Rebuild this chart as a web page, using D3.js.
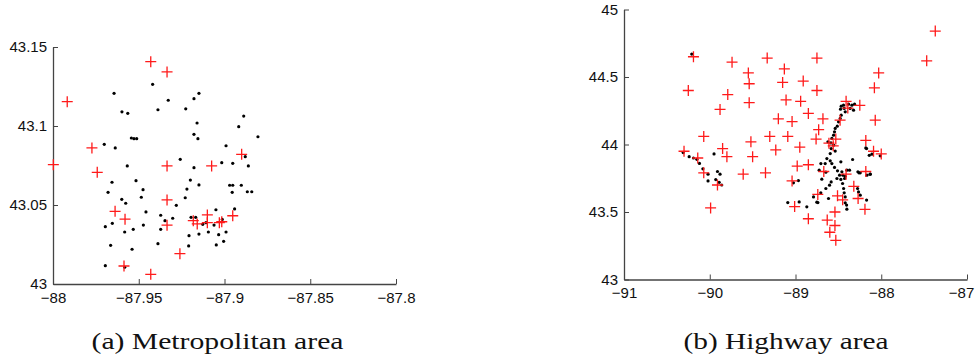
<!DOCTYPE html>
<html>
<head>
<meta charset="utf-8">
<script src="https://cdn.jsdelivr.net/npm/d3@7"></script>
<style>
  body { margin: 0; background: #fff; }
  svg { display: block; }
  .tick text { font-family: "Liberation Sans", Arial, sans-serif; font-size: 15px; fill: #111; }
  .caption { font-family: "Liberation Serif", "DejaVu Serif", serif; font-size: 24px; fill: #111; }
</style>
</head>
<body>
<div id="chart"></div>
<script>
// (a) metropolitan area: sensors (black dots) and targets (red crosses), [lon, lat]
const metroSensors = [
  [-87.9644, 43.1207], [-87.9419, 43.1264], [-87.9328, 43.1163], [-87.9178, 43.1173],
  [-87.9149, 43.1207], [-87.9598, 43.1090], [-87.9564, 43.1080], [-87.9388, 43.1103],
  [-87.9226, 43.1109], [-87.9160, 43.1019], [-87.9701, 43.0884], [-87.9637, 43.0861],
  [-87.9543, 43.0924], [-87.9528, 43.0920], [-87.9512, 43.0920], [-87.9178, 43.0947],
  [-87.9155, 43.0920], [-87.9258, 43.0789], [-87.9567, 43.0747], [-87.9178, 43.0736],
  [-87.9656, 43.0644], [-87.9516, 43.0654], [-87.9199, 43.0658], [-87.9149, 43.0627],
  [-87.9679, 43.0580], [-87.9475, 43.0597], [-87.9219, 43.0601], [-87.9599, 43.0536],
  [-87.9576, 43.0511], [-87.9485, 43.0549], [-87.9229, 43.0546], [-87.9281, 43.0498],
  [-87.9458, 43.0456], [-87.9372, 43.0435], [-87.9347, 43.0401], [-87.9302, 43.0416],
  [-87.9195, 43.0422], [-87.9168, 43.0422], [-87.9695, 43.0363], [-87.9654, 43.0384],
  [-87.9582, 43.0329], [-87.9532, 43.0346], [-87.9473, 43.0373], [-87.9372, 43.0346],
  [-87.9207, 43.0306], [-87.9149, 43.0316], [-87.9664, 43.0245], [-87.9388, 43.0255],
  [-87.9209, 43.0241], [-87.9539, 43.0220], [-87.9695, 43.0116], [-87.9582, 43.0106],
  [-87.8888, 43.1063], [-87.8917, 43.0996], [-87.8805, 43.0932], [-87.8991, 43.0875],
  [-87.8879, 43.0806], [-87.8861, 43.0747], [-87.9016, 43.0768], [-87.8952, 43.0764],
  [-87.8970, 43.0625], [-87.8952, 43.0625], [-87.8902, 43.0625], [-87.8955, 43.0580],
  [-87.8867, 43.0584], [-87.8841, 43.0584], [-87.9050, 43.0470], [-87.8941, 43.0475],
  [-87.9127, 43.0378], [-87.9108, 43.0388], [-87.9061, 43.0373], [-87.9013, 43.0409],
  [-87.9094, 43.0329], [-87.9034, 43.0312], [-87.8991, 43.0329], [-87.9048, 43.0247],
  [-87.9005, 43.0270]
];
const metroTargets = [
  [-87.9430, 43.1407], [-87.9335, 43.1342], [-87.9917, 43.1154], [-87.9773, 43.0861],
  [-87.9998, 43.0755], [-87.9742, 43.0707], [-87.9335, 43.0747], [-87.9638, 43.0460],
  [-87.9580, 43.0410], [-87.9335, 43.0532], [-87.9335, 43.0372], [-87.9260, 43.0192],
  [-87.9586, 43.0114], [-87.9430, 43.0061], [-87.8900, 43.0821], [-87.9075, 43.0747],
  [-87.8952, 43.0432], [-87.9182, 43.0401], [-87.9159, 43.0380], [-87.9100, 43.0437],
  [-87.9100, 43.0388], [-87.9030, 43.0388], [-87.9016, 43.0394]
];

// (b) highway area
const highwaySensors = [
  [-90.21, 44.67], [-90.31, 43.94], [-90.24, 43.91], [-90.19, 43.90], [-90.15, 43.89],
  [-90.12, 43.86], [-90.08, 43.82], [-90.02, 43.78], [-90.02, 43.73], [-89.95, 43.93],
  [-89.91, 43.80], [-89.88, 43.78], [-89.93, 43.74], [-89.89, 43.72], [-89.86, 43.70],
  [-88.467, 44.284], [-88.440, 44.291], [-88.381, 44.299], [-88.342, 44.291], [-88.311, 44.299],
  [-88.475, 44.262], [-88.432, 44.267], [-88.362, 44.267], [-88.323, 44.254], [-88.420, 44.242],
  [-88.467, 44.217], [-88.479, 44.193], [-88.498, 44.168], [-88.513, 44.136], [-88.537, 44.119],
  [-88.545, 44.094], [-88.556, 44.069], [-88.576, 44.045], [-88.587, 44.012], [-88.622, 44.020],
  [-88.556, 43.995], [-88.584, 43.970], [-88.537, 43.951], [-88.595, 43.933], [-88.171, 43.970],
  [-88.109, 43.928], [-88.012, 43.916], [-88.634, 43.896], [-88.704, 43.859], [-88.654, 43.859],
  [-88.595, 43.879], [-88.576, 43.859], [-88.471, 43.872], [-88.334, 43.889], [-88.545, 43.830],
  [-88.724, 43.810], [-88.646, 43.795], [-88.510, 43.805], [-88.459, 43.798], [-88.401, 43.810],
  [-88.370, 43.810], [-88.486, 43.773], [-88.447, 43.773], [-88.420, 43.765], [-88.272, 43.798],
  [-88.245, 43.790], [-88.167, 43.773], [-88.128, 43.780], [-88.693, 43.743], [-88.517, 43.748],
  [-88.471, 43.741], [-88.428, 43.748], [-88.584, 43.723], [-88.603, 43.699], [-88.451, 43.711],
  [-88.646, 43.674], [-88.439, 43.674], [-88.276, 43.674], [-88.432, 43.642], [-88.265, 43.649],
  [-88.790, 43.612], [-88.615, 43.600], [-88.420, 43.612], [-88.245, 43.625], [-88.739, 43.570],
  [-88.420, 43.568], [-88.171, 43.588], [-88.404, 43.551], [-88.868, 43.538], [-88.401, 43.521],
  [-89.024, 43.716], [-88.966, 43.733], [-89.090, 43.570], [-88.957, 43.575], [-88.751, 43.573],
  [-88.705, 43.642], [-88.180, 43.975], [-88.140, 43.920], [-88.130, 43.780], [-88.260, 43.790]
];
const highwayTargets = [
  [-87.37, 44.84], [-87.47, 44.62], [-90.19, 44.65], [-89.74, 44.61], [-89.33, 44.64],
  [-88.75, 44.64], [-89.13, 44.56], [-89.55, 44.53], [-88.03, 44.53], [-90.25, 44.40],
  [-89.54, 44.45], [-89.15, 44.46], [-88.91, 44.47], [-88.08, 44.42], [-88.75, 44.40],
  [-89.79, 44.37], [-89.11, 44.33], [-89.54, 44.31], [-88.94, 44.32], [-89.88, 44.26],
  [-88.41, 44.32], [-88.25, 44.29], [-88.85, 44.23], [-88.39, 44.27], [-89.20, 44.19],
  [-89.04, 44.17], [-88.68, 44.19], [-88.07, 44.18], [-88.48, 44.18], [-88.73, 44.11],
  [-90.07, 44.06], [-89.30, 44.06], [-89.09, 44.06], [-88.76, 44.04], [-89.52, 44.02],
  [-88.53, 44.04], [-88.18, 44.03], [-88.61, 44.01], [-88.56, 43.99], [-88.95, 43.98],
  [-89.85, 43.97], [-89.23, 43.96], [-90.30, 43.95], [-88.09, 43.95], [-88.00, 43.93],
  [-90.14, 43.90], [-89.80, 43.91], [-89.50, 43.91], [-88.98, 43.84], [-88.85, 43.85],
  [-90.07, 43.79], [-89.61, 43.78], [-89.35, 43.79], [-88.67, 43.80], [-88.18, 43.80],
  [-88.41, 43.78], [-89.04, 43.73], [-89.91, 43.70], [-88.32, 43.69], [-88.74, 43.63],
  [-88.51, 43.62], [-88.27, 43.60], [-88.45, 43.59], [-89.99, 43.53], [-89.01, 43.54],
  [-88.19, 43.52], [-88.54, 43.50], [-88.85, 43.45], [-88.63, 43.44], [-88.54, 43.40],
  [-88.60, 43.35], [-88.53, 43.29]
];

const metroXTicks = [-88, -87.95, -87.9, -87.85, -87.8];
const metroYTicks = [43, 43.05, 43.1, 43.15];
const highwayXTicks = [-91, -90, -89, -88, -87];
const highwayYTicks = [43, 43.5, 44, 44.5, 45];

const captions = ['(a) Metropolitan area', '(b) Highway area'];

const W = 977, H = 360;
const svg = d3.select('#chart').append('svg').attr('width', W).attr('height', H);

const fmt = d => (d < 0 ? '\u2212' : '') + String(Math.abs(d));

function panel(opts) {
  const x = d3.scaleLinear().domain(opts.xDomain).range([opts.left, opts.right]);
  const y = d3.scaleLinear().domain(opts.yDomain).range([opts.bottom, opts.top]);
  const g = svg.append('g');

  const xAxis = g.append('g')
    .attr('transform', `translate(0,${opts.bottom})`)
    .call(d3.axisBottom(x).tickValues(opts.xTicks).tickFormat(fmt)
      .tickSizeInner(-5).tickSizeOuter(0).tickPadding(8));
  const yAxis = g.append('g')
    .attr('transform', `translate(${opts.left},0)`)
    .call(d3.axisLeft(y).tickValues(opts.yTicks).tickFormat(fmt)
      .tickSizeInner(-5).tickSizeOuter(0).tickPadding(6));
  [xAxis, yAxis].forEach(a => {
    a.select('.domain').attr('stroke', '#444').attr('stroke-width', 1.3);
    a.selectAll('.tick line').attr('stroke', '#444');
    a.attr('font-size', null).attr('font-family', null);
  });
  // keep the last x label inside the page
  if (opts.lastLabelShift) {
    xAxis.selectAll('.tick').filter((d, i, n) => i === n.length - 1)
      .select('text').attr('dx', opts.lastLabelShift);
  }

  // sensors
  g.append('g').selectAll('circle')
    .data(opts.sensors)
    .enter().append('circle')
    .attr('cx', d => x(d[0]))
    .attr('cy', d => y(d[1]))
    .attr('r', 1.6)
    .attr('fill', '#000');

  // targets as '+' markers
  const s = 5.5;
  g.append('g').selectAll('path')
    .data(opts.targets)
    .enter().append('path')
    .attr('d', d => {
      const cx = x(d[0]), cy = y(d[1]);
      return `M${cx - s},${cy}H${cx + s}M${cx},${cy - s}V${cy + s}`;
    })
    .attr('stroke', '#ff1a1a')
    .attr('stroke-width', 1.3)
    .attr('fill', 'none');

  svg.append('text')
    .attr('class', 'caption')
    .attr('x', opts.capX)
    .attr('y', 349)
    .attr('text-anchor', 'middle')
    .attr('textLength', opts.capW)
    .attr('lengthAdjust', 'spacingAndGlyphs')
    .text(opts.caption);
}

panel({
  xDomain: [-88, -87.8], yDomain: [43, 43.15],
  left: 53, right: 396, top: 47, bottom: 284,
  xTicks: metroXTicks, yTicks: metroYTicks,
  sensors: metroSensors, targets: metroTargets,
  caption: captions[0], capX: 217.5, capW: 252
});

panel({
  xDomain: [-91, -87], yDomain: [43, 45],
  left: 624, right: 967, top: 9.5, bottom: 279.5,
  xTicks: highwayXTicks, yTicks: highwayYTicks,
  sensors: highwaySensors, targets: highwayTargets,
  caption: captions[1], capX: 786, capW: 205, lastLabelShift: -6
});
</script>
</body>
</html>
